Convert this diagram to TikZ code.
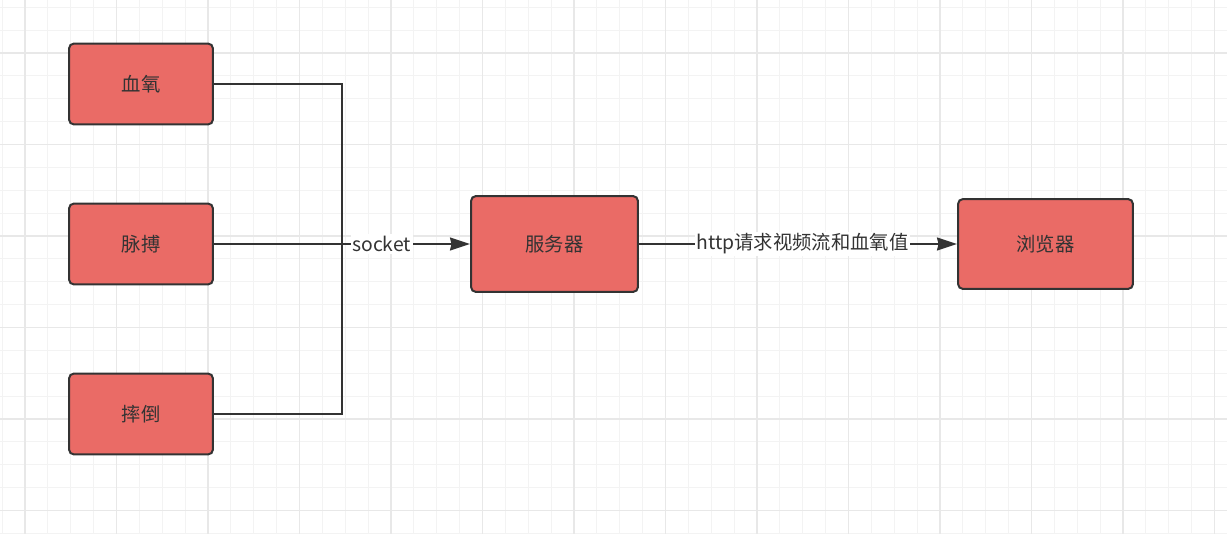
\documentclass[tikz,border=0pt]{standalone}
\usepackage{fontspec}
\setmainfont{Noto Sans CJK SC}
\usetikzlibrary{arrows.meta}
\definecolor{boxred}{HTML}{EA6B66}
\definecolor{inkgray}{HTML}{333333}
\definecolor{gridminor}{HTML}{F3F3F3}
\definecolor{gridmajor}{HTML}{E8E8E8}
\tikzset{
  devbox/.style={draw=inkgray, fill=boxred, line width=1.14pt, rounded corners=0.1cm,
    minimum width=2.88cm, minimum height=1.62cm, font=\fontsize{11}{13}\selectfont, text=inkgray},
  wire/.style={draw=inkgray, line width=1.14pt},
  tipwire/.style={wire, -{Stealth[length=0.4cm, width=0.26cm, inset=0.03cm]}},
  edgelabel/.style={fill=white, inner sep=1pt, font=\fontsize{11}{13}\selectfont, text=inkgray},
  minorline/.style={gridminor, line width=0.6pt},
  majorline/.style={gridmajor, line width=0.6pt}
}
\begin{document}
\begin{tikzpicture}[x=0.02cm, y=-0.02cm]
    % Sfondo e griglia
    \fill[white] (0,0) rectangle (1227,534);
    \useasboundingbox (0,0) rectangle (1227,534);
    \begin{scope}
        \clip (0,0) rectangle (1227,534);
        \foreach \i in {-1,...,53} {
            \draw[minorline] ({25+22.875*\i},0) -- ({25+22.875*\i},534);
        }
        \foreach \i in {-2,...,21} {
            \draw[minorline] (0,{53+22.875*\i}) -- (1227,{53+22.875*\i});
        }
        \foreach \i in {0,...,13} {
            \draw[majorline] ({25+91.5*\i},0) -- ({25+91.5*\i},534);
        }
        \foreach \i in {0,...,5} {
            \draw[majorline] (0,{53+91.5*\i}) -- (1227,{53+91.5*\i});
        }
    \end{scope}

    % Sensori
    \node[devbox] (xueyang) at (141,84) {血氧};
    \node[devbox] (maibo) at (141,244) {脉搏};
    \node[devbox] (shuaidao) at (141,414) {摔倒};

    % Server e browser
    \node[devbox, minimum width=3.34cm, minimum height=1.92cm] (server) at (554.5,244) {服务器};
    \node[devbox, minimum width=3.5cm, minimum height=1.8cm] (browser) at (1045.5,244) {浏览器};

    % Collegamenti
    \coordinate (join) at (342,244);
    \draw[wire] (xueyang.east) -| (join) |- (shuaidao.east);
    \draw[tipwire] (maibo.east) -- node[edgelabel, pos=0.655] {socket} (server.west);
    \draw[tipwire] (server.east) -- node[edgelabel, pos=0.514] {http请求视频流和血氧值} (browser.west);
\end{tikzpicture}
\end{document}
